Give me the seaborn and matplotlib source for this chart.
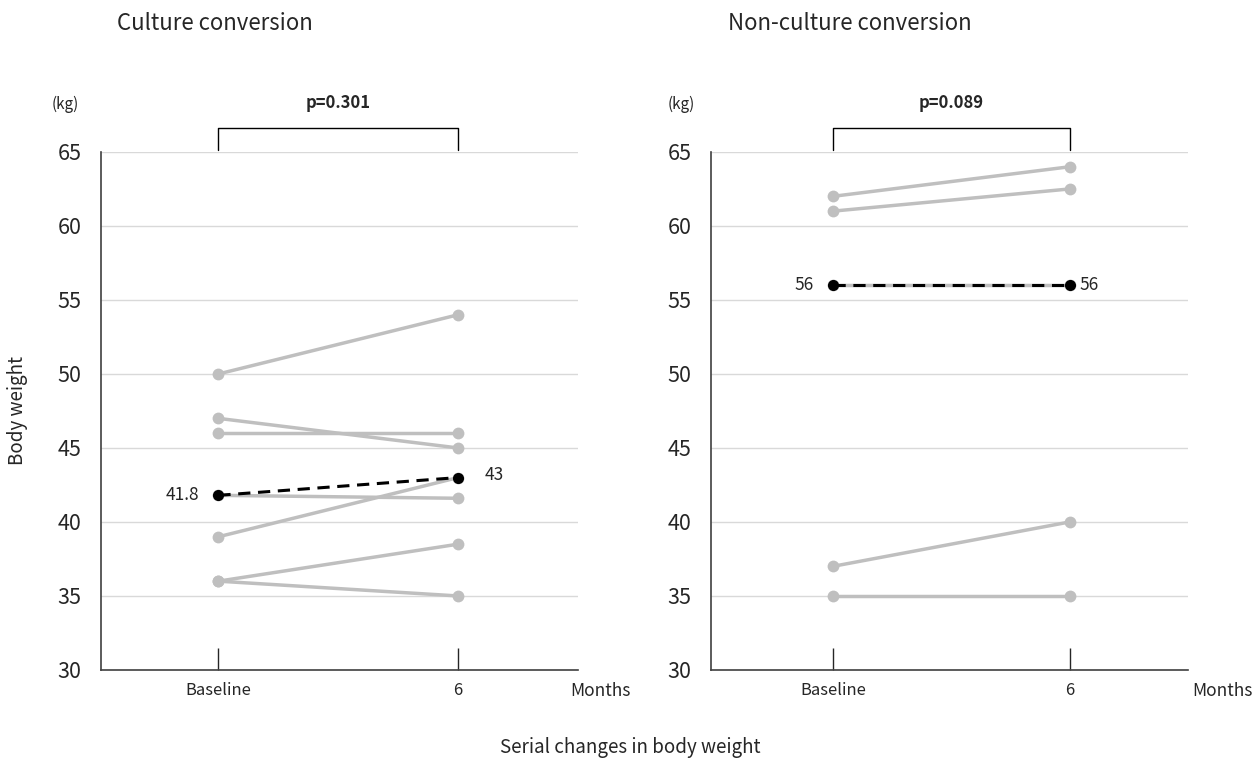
import pandas as pd
import matplotlib
matplotlib.use('Agg')
import matplotlib.pyplot as plt
import seaborn as sns

# data: body weight (kg) at baseline and 6 months
times = ['Baseline', '6']
culture_base = [50, 47, 46, 41.8, 39, 36, 36]
culture_6m = [54, 45, 46, 41.6, 43, 38.5, 35]
nonculture_base = [62, 61, 56, 37, 35]
nonculture_6m = [64, 62.5, 56, 40, 35]
panel_titles = ['Culture conversion', 'Non-culture conversion']
p_values = ['p=0.301', 'p=0.089']
yticks = [30, 35, 40, 45, 50, 55, 60, 65]


def long_df(base, six):
    rows = []
    for i, (b, s) in enumerate(zip(base, six)):
        rows.append({'id': i, 'time': times[0], 'weight': b})
        rows.append({'id': i, 'time': times[1], 'weight': s})
    return pd.DataFrame(rows)


sns.set_theme(style='white')
plt.rcParams['font.family'] = ['Noto Sans CJK JP', 'DejaVu Sans']

fig = plt.figure(figsize=(12.57, 7.59), dpi=100)
ax1 = fig.add_axes([0.0803, 0.1173, 0.3795, 0.6825])
ax2 = fig.add_axes([0.5656, 0.1173, 0.3795, 0.6825])

gray = '#BFBFBF'
panels = [(ax1, culture_base, culture_6m), (ax2, nonculture_base, nonculture_6m)]
for k, (ax, base, six) in enumerate(panels):
    df = long_df(base, six)
    sns.lineplot(data=df, x='time', y='weight', units='id', estimator=None,
                 color=gray, lw=2.5, marker='o', markersize=8.5, markeredgewidth=0,
                 ax=ax, zorder=2)
    sns.lineplot(data=df, x='time', y='weight', estimator='median', errorbar=None,
                 color='black', lw=2.2, linestyle=(0, (4, 2.5)), marker='o',
                 markersize=8, markeredgewidth=0, ax=ax, zorder=3)
    med = df.groupby('time', sort=False)['weight'].median()

    ax.set_xlim(-0.49 if k == 0 else -0.515, 1.5)
    ax.set_ylim(30, 65)
    ax.set_yticks(yticks)
    ax.yaxis.grid(True, color='#D9D9D9', lw=1)
    ax.xaxis.grid(False)
    ax.set_axisbelow(True)
    for s in ['top', 'right']:
        ax.spines[s].set_visible(False)
    for s in ['left', 'bottom']:
        ax.spines[s].set_color('#404040')
        ax.spines[s].set_linewidth(1.2)
    ax.tick_params(axis='y', length=0, pad=14, labelsize=15.5, labelcolor='#262626')
    ax.tick_params(axis='x', direction='in', length=16, width=1, color='#262626',
                   pad=9, labelsize=12, bottom=True)
    ax.set_xlabel('')
    ax.set_ylabel('')

    # bracket with p value
    ax.plot([0, 0, 1, 1], [65.1, 66.6, 66.6, 65.1], color='black', lw=1, clip_on=False)
    ax.text(0.5, 68.3, p_values[k], ha='center', va='center', fontsize=12,
            fontweight='bold')
    ax.text(-0.64, 68.2, '(kg)', ha='center', va='center', fontsize=11)
    ax.text(0.983 if k == 0 else 1.008, -0.04, 'Months', transform=ax.transAxes,
            ha='left', va='center', fontsize=12.5)

    # median labels
    if k == 0:
        ax.text(-0.08, med[times[0]], f'{med[times[0]]:g}', ha='right', va='center', fontsize=12.5)
        ax.text(1.11, med[times[1]] + 0.2, f'{med[times[1]]:g}', ha='left', va='center', fontsize=12.5)
    else:
        ax.text(-0.08, med[times[0]], f'{med[times[0]]:g}', ha='right', va='center', fontsize=12.5)
        ax.text(1.04, med[times[1]], f'{med[times[1]]:g}', ha='left', va='center', fontsize=12.5)

fig.text(117 / 1257, 1 - 24 / 759, panel_titles[0], ha='left', va='center', fontsize=16)
fig.text(728 / 1257, 1 - 24 / 759, panel_titles[1], ha='left', va='center', fontsize=16)
fig.text(18 / 1257, 1 - 410 / 759, 'Body weight', rotation=90, ha='center', va='center', fontsize=13.5)
fig.text(630 / 1257, 1 - 748 / 759, 'Serial changes in body weight', ha='center', va='center', fontsize=13.5)

fig.savefig('out.png', dpi=100)
